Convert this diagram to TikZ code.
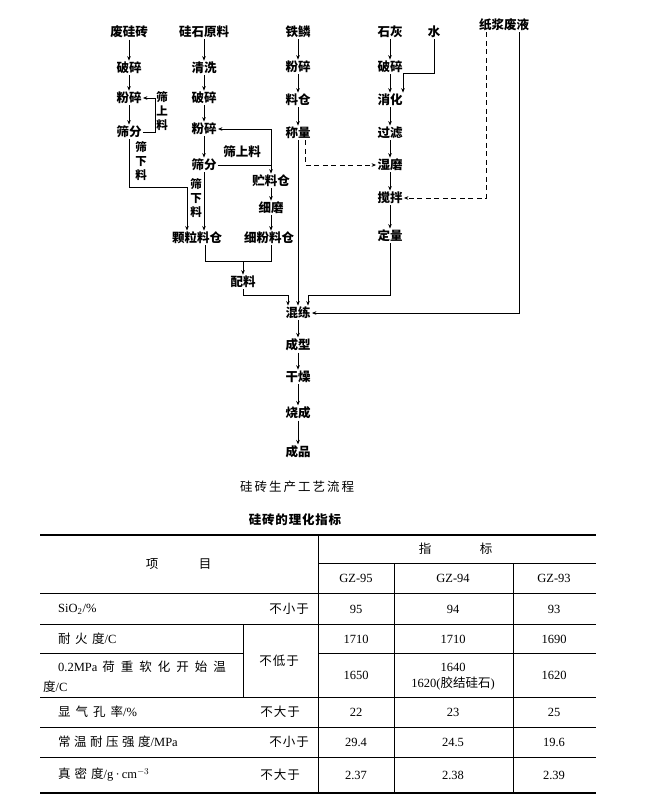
\documentclass[tikz,border=0pt]{standalone}
\usepackage{fontspec}
\setmainfont{Liberation Serif}
\newfontfamily\cjk{Noto Sans CJK SC}
\usetikzlibrary{arrows.meta}
\newlength\zgap
\def\zspc#1{\zspcA#1\relax}
\def\zspcA#1{\ifx\relax#1\else#1\expandafter\zspcB\fi}
\def\zspcB#1{\ifx\relax#1\else\hskip\zgap#1\expandafter\zspcB\fi}
\newcommand\tzh[2][4pt]{{\setlength\zgap{#1}\cjk\zspc{#2}}}
\begin{document}
\begin{tikzpicture}[x=1pt,y=-1pt,
  lbl/.style={font=\fontsize{12.5}{14}\selectfont\cjk\bfseries, inner sep=1.2pt},
  vlbl/.style={font=\fontsize{11.5}{14}\selectfont\cjk\bfseries, inner sep=0pt, align=center},
  arr/.style={-{Stealth[length=4.5pt,width=3.6pt]}, line width=0.9pt},
  ln/.style={line width=0.9pt},
  dsh/.style={dash pattern=on 5pt off 3.5pt},
  tt/.style={font=\fontsize{12.5}{14}\selectfont, inner sep=0pt},
  tl/.style={tt, anchor=west},
  rule/.style={line width=0.6pt},
  brule/.style={line width=1.2pt}]
\fill[white] (0,0) rectangle (656,801);
\useasboundingbox (0,0) rectangle (656,801);
% column 1
\node[lbl] (a1) at (129,32) {废硅砖};
\node[lbl] (a2) at (129,68) {破碎};
\node[lbl] (a3) at (129,98) {粉碎};
\node[lbl] (a4) at (129,132) {筛分};
% column 2
\node[lbl] (b1) at (204,32) {硅石原料};
\node[lbl] (b2) at (204,68) {清洗};
\node[lbl] (b3) at (204,98) {破碎};
\node[lbl] (b4) at (204,129) {粉碎};
\node[lbl] (b5) at (204,165) {筛分};
\node[lbl] (b6) at (197,238) {颗粒料仓};
\node[lbl] (b7) at (271,181) {贮料仓};
\node[lbl] (b8) at (271,208) {细磨};
\node[lbl] (b9) at (269,238) {细粉料仓};
\node[lbl] (b10) at (243,282) {配料};
% column 3
\node[lbl] (c1) at (298,32) {铁鳞};
\node[lbl] (c2) at (298,67) {粉碎};
\node[lbl] (c3) at (298,100) {料仓};
\node[lbl] (c4) at (298,133) {称量};
% column 4
\node[lbl] (d1) at (390,32) {石灰};
\node[lbl] (d2) at (434,32) {水};
\node[lbl] (d3) at (390,67) {破碎};
\node[lbl] (d4) at (390,100) {消化};
\node[lbl] (d5) at (390,133) {过滤};
\node[lbl] (d6) at (390,165) {湿磨};
\node[lbl] (d7) at (390,198) {搅拌};
\node[lbl] (d8) at (390,236) {定量};
\node[lbl] (e1) at (504,25) {纸浆废液};
% main line
\node[lbl] (m1) at (298,313) {混练};
\node[lbl] (m2) at (298,345) {成型};
\node[lbl] (m3) at (298,377) {干燥};
\node[lbl] (m4) at (298,413) {烧成};
\node[lbl] (m5) at (298,452) {成品};
% side labels
\node[vlbl] (v1) at (162,111) {筛\\上\\料};
\node[vlbl] (v2) at (141,161) {筛\\下\\料};
\node[vlbl] (v3) at (196,198) {筛\\下\\料};
\node[lbl] (h1) at (242,152) {筛上料};
% vertical arrows
\foreach \p/\q in {a1/a2,a2/a3,a3/a4,b1/b2,b2/b3,b3/b4,b4/b5,b5/b6,b7/b8,b8/b9,
  c1/c2,c2/c3,c3/c4,c4/m1,d1/d3,d3/d4,d4/d5,d5/d6,d6/d7,d7/d8,m1/m2,m2/m3,m3/m4,m4/m5}
  \draw[arr] (\p.south) -- (\p.south |- \q.north);
% loops and branches
\coordinate (L1) at (155,0);
\draw[arr] (a4.east) -- (a4.east -| L1) -- (a3.east -| L1) -- (a3.east);
\coordinate (L2) at (187,187);
\draw[arr] (a4.south) |- (L2) -- (L2 |- b6.north);
\draw[arr] (b5.east) -| (b7.north);
\draw[arr] (b5.east -| b7.north) |- (b4.east);
\draw[arr,dsh] ([xshift=7pt]c4.south) |- (d6.west);
\coordinate (W) at (403,73);
\draw[arr] (d2.south) |- (W) -- (W |- d4.north);
\coordinate (Z1) at (486,0);
\draw[arr,dsh] (Z1 |- e1.south) -- (Z1 |- d7.east) -- (d7.east);
\coordinate (Z2) at (519,0);
\draw[arr] (Z2 |- e1.south) -- (Z2 |- m1.east) -- (m1.east);
\coordinate (D) at (308,295);
\draw[arr] (d8.south) |- (D) -- (D |- m1.north);
\coordinate (P) at (288,295);
\draw[arr] (b10.south) |- (P) -- (P |- m1.north);
\coordinate (Q1) at (205,261);
\coordinate (Q2) at (271,261);
\draw[ln] (Q1 |- b6.south) -- (Q1) -- (Q2) -- (Q2 |- b9.south);
\draw[arr] (Q1 -| b10) -- (b10.north);
% captions
\node (cap) at (297,487) {\fontsize{12.5}{14}\selectfont\tzh[2pt]{硅砖生产工艺流程}};
\node (ttl) at (295,520) {\fontsize{12.5}{14}\selectfont\bfseries\tzh[0.8pt]{硅砖的理化指标}};
% table rules
\draw[brule] (40,535) -- (596,535);
\draw[brule] (40,793) -- (596,793);
\draw[rule] (318,535) -- (318,793);
\draw[rule] (318,563) -- (596,563);
\draw[rule] (394,563) -- (394,793);
\draw[rule] (513,563) -- (513,793);
\foreach \y in {593,624,697,727,757} \draw[rule] (40,\y) -- (596,\y);
\draw[rule] (40,653) -- (243,653);
\draw[rule] (318,653) -- (596,653);
\draw[rule] (243,624) -- (243,697);
% table header
\node[tt] (t1) at (152,564) {\cjk 项};
\node[tt] (t2) at (205,564) {\cjk 目};
\node[tt] (t3) at (425,549) {\cjk 指};
\node[tt] (t4) at (486,549) {\cjk 标};
\node[tt] (g1) at (356,578) {GZ-95};
\node[tt] (g2) at (453,578) {GZ-94};
\node[tt] (g3) at (554,578) {GZ-93};
% rows
\node[tl] (r1) at (58,609) {SiO\textsubscript{2}/\%};
\node[tt] (r1b) at (289,609) {\tzh[1pt]{不小于}};
\node[tt] (r1c) at (356,609) {95};
\node[tt] (r1d) at (453,609) {94};
\node[tt] (r1e) at (554,609) {93};
\node[tl] (r2) at (58,639) {\tzh[4.5pt]{耐火度}/C};
\node[tt] (r2c) at (356,639) {1710};
\node[tt] (r2d) at (453,639) {1710};
\node[tt] (r2e) at (554,639) {1690};
\node[tl] (r3) at (58,667) {0.2MPa\hskip5pt\tzh[6pt]{荷重软化开始温}};
\node[tl] (r3a) at (43,687) {\tzh{度}/C};
\node[tt] (r3b) at (279,661) {\tzh[1pt]{不低于}};
\node[tt] (r3c) at (356,675) {1650};
\node[tt] (r3d) at (453,667) {1640};
\node[tt] (r3f) at (453,684) {1620({\cjk 胶结硅石})};
\node[tt] (r3e) at (554,675) {1620};
\node[tl] (r4) at (58,712) {\tzh[5pt]{显气孔率}/\%};
\node[tt] (r4b) at (280,712) {\tzh[1pt]{不大于}};
\node[tt] (r4c) at (356,712) {22};
\node[tt] (r4d) at (453,712) {23};
\node[tt] (r4e) at (554,712) {25};
\node[tl] (r5) at (58,742) {\tzh[3.5pt]{常温耐压强度}/MPa};
\node[tt] (r5b) at (289,742) {\tzh[1pt]{不小于}};
\node[tt] (r5c) at (356,742) {29.4};
\node[tt] (r5d) at (453,742) {24.5};
\node[tt] (r5e) at (554,742) {19.6};
\node[tl] (r6) at (58,775) {\tzh[4pt]{真密度}/g\,·\,cm$^{-3}$};
\node[tt] (r6b) at (280,775) {\tzh[1pt]{不大于}};
\node[tt] (r6c) at (356,775) {2.37};
\node[tt] (r6d) at (453,775) {2.38};
\node[tt] (r6e) at (554,775) {2.39};
\end{tikzpicture}
\end{document}
